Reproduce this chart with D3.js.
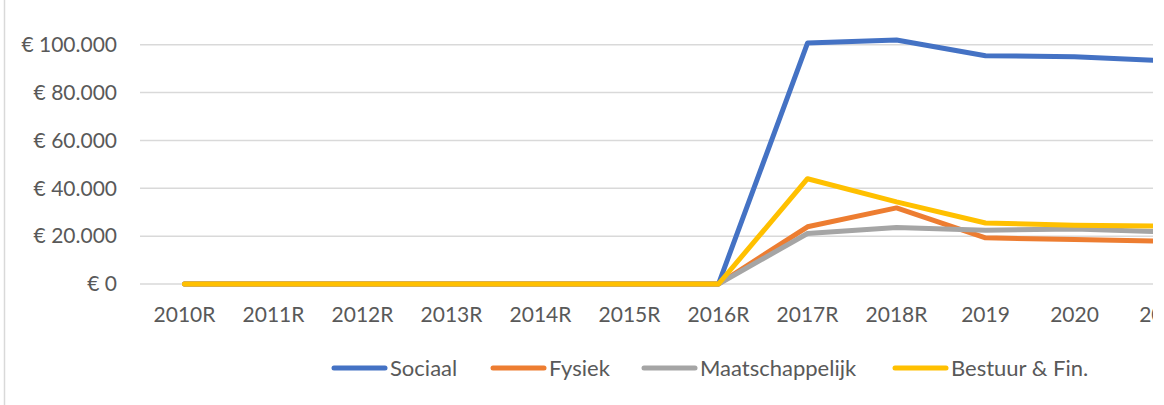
<!DOCTYPE html>
<html>
<head>
<meta charset="utf-8">
<script src="https://cdn.jsdelivr.net/npm/d3@7"></script>
<style>
  body { margin: 0; background: #fff; }
  svg text { font-family: Lato, "Noto Sans", sans-serif; fill: #595959; }
</style>
</head>
<body>
<div id="chart"></div>
<script>
// categories and series
const years = ['2010R', '2011R', '2012R', '2013R', '2014R', '2015R', '2016R', '2017R', '2018R', '2019', '2020', '2021'];
const sociaal = [0, 0, 0, 0, 0, 0, 0, 100700, 102000, 95400, 95000, 93300];
const fysiek = [0, 0, 0, 0, 0, 0, 0, 23900, 31800, 19300, 18600, 17900];
const maatschappelijk = [0, 0, 0, 0, 0, 0, 0, 21100, 23600, 22500, 23000, 21800];
const bestuur = [0, 0, 0, 0, 0, 0, 0, 44000, 34300, 25500, 24600, 24200];
const yTicks = [0, 20000, 40000, 60000, 80000, 100000];

const series = [
  { name: 'Sociaal', values: sociaal, color: '#4472C4' },
  { name: 'Fysiek', values: fysiek, color: '#ED7D31' },
  { name: 'Maatschappelijk', values: maatschappelijk, color: '#A5A5A5' },
  { name: 'Bestuur & Fin.', values: bestuur, color: '#FFC000' }
];

const W = 1164, H = 405;
const margin = { top: 0, left: 140 };
const step = 89;
const plotW = years.length * step;
const height = 284;

const svg = d3.select('#chart')
  .append('svg')
  .attr('width', W)
  .attr('height', H);

// left border of the chart area
svg.append('line')
  .attr('x1', 4.5).attr('x2', 4.5)
  .attr('y1', 0).attr('y2', H)
  .attr('stroke', '#d9d9d9')
  .attr('stroke-width', 1.5);

// the chart is cut off at the right
svg.append('clipPath').attr('id', 'cut')
  .append('rect').attr('x', 0).attr('y', 0).attr('width', 1153).attr('height', H);

const g = svg.append('g').attr('clip-path', 'url(#cut)');

const x = d3.scalePoint()
  .domain(years)
  .range([margin.left + step / 2, margin.left + plotW - step / 2]);

const y = d3.scaleLinear()
  .domain([0, 100000])
  .range([height, 44.7]);

// gridlines
g.append('g')
  .selectAll('line')
  .data(yTicks)
  .enter()
  .append('line')
  .attr('x1', margin.left)
  .attr('x2', margin.left + plotW)
  .attr('y1', d => y(d))
  .attr('y2', d => y(d))
  .attr('stroke', '#d9d9d9')
  .attr('stroke-width', 1.5);

// Y axis labels
const fmt = d => '€ ' + d3.format(',')(d).replace(/,/g, '.');
g.append('g')
  .selectAll('text')
  .data(yTicks)
  .enter()
  .append('text')
  .attr('x', 117)
  .attr('y', d => y(d))
  .attr('dy', '0.35em')
  .attr('text-anchor', 'end')
  .style('font-size', '21px')
  .text(fmt);

// X axis labels
g.append('g')
  .selectAll('text')
  .data(years)
  .enter()
  .append('text')
  .attr('x', d => x(d))
  .attr('y', 315)
  .attr('dy', '0.35em')
  .attr('text-anchor', 'middle')
  .style('font-size', '21px')
  .text(d => d);

// lines
const line = d3.line()
  .x((d, i) => x(years[i]))
  .y(d => y(d));

g.selectAll('.series')
  .data(series)
  .enter()
  .append('path')
  .attr('class', 'series')
  .attr('d', d => line(d.values))
  .attr('fill', 'none')
  .attr('stroke', d => d.color)
  .attr('stroke-width', 5)
  .attr('stroke-linejoin', 'round')
  .attr('stroke-linecap', 'round');

// legend
const legendX = [332, 491, 642, 893];
const legend = svg.append('g')
  .selectAll('g')
  .data(series)
  .enter()
  .append('g')
  .attr('transform', (d, i) => 'translate(' + legendX[i] + ',368)');

legend.append('line')
  .attr('x1', 2).attr('x2', 53)
  .attr('y1', 0).attr('y2', 0)
  .attr('stroke', d => d.color)
  .attr('stroke-width', 5)
  .attr('stroke-linecap', 'round');

legend.append('text')
  .attr('x', 58)
  .attr('y', 0)
  .attr('dy', '0.35em')
  .style('font-size', '22px')
  .text(d => d.name);
</script>
</body>
</html>
